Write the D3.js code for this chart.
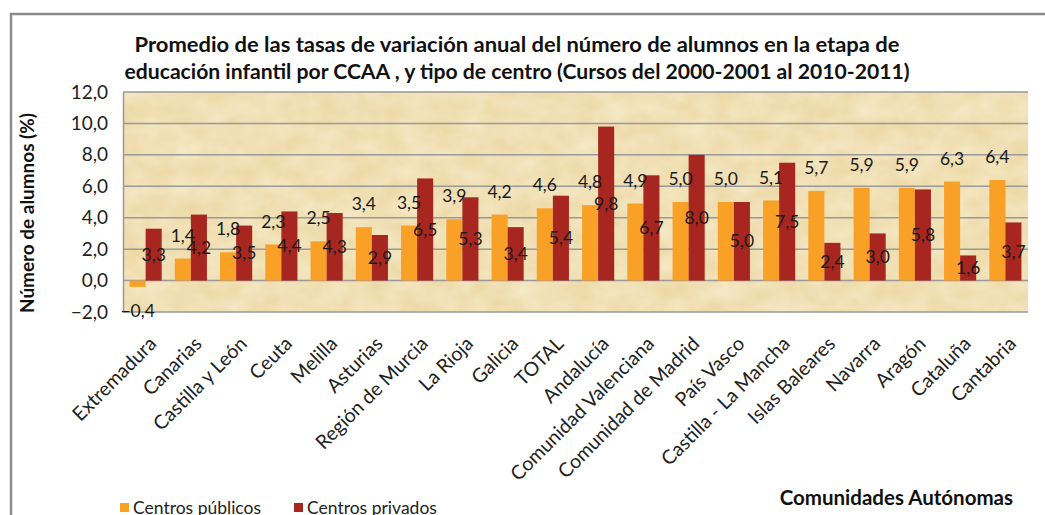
<!DOCTYPE html>
<html>
<head>
<meta charset="utf-8">
<title>Tasas de variación - educación infantil</title>
<script src="https://d3js.org/d3.v7.min.js"></script>
<style>
body { margin: 0; background: #fff; }
svg { display: block; font-family: Lato, "Open Sans", sans-serif; }
</style>
</head>
<body>
<script type="text/javascript">

var width = 1045,
    height = 515;

var categories = ["Extremadura", "Canarias", "Castilla y León", "Ceuta", "Melilla", "Asturias",
  "Región de Murcia", "La Rioja", "Galicia", "TOTAL", "Andalucía", "Comunidad Valenciana",
  "Comunidad de Madrid", "País Vasco", "Castilla - La Mancha", "Islas Baleares", "Navarra",
  "Aragón", "Cataluña", "Cantabria"];

var publicos = [-0.4, 1.4, 1.8, 2.3, 2.5, 3.4, 3.5, 3.9, 4.2, 4.6, 4.8, 4.9, 5.0, 5.0, 5.1, 5.7, 5.9, 5.9, 6.3, 6.4];
var privados = [3.3, 4.2, 3.5, 4.4, 4.3, 2.9, 6.5, 5.3, 3.4, 5.4, 9.8, 6.7, 8.0, 5.0, 7.5, 2.4, 3.0, 5.8, 1.6, 3.7];

var yTicks = [-2, 0, 2, 4, 6, 8, 10, 12];
var seriesNames = ["Centros públicos", "Centros privados"];
var seriesColors = ["#F9A027", "#A7261F"];

var titleLines = ["Promedio de las tasas de variación anual del número de alumnos en la etapa de",
  "educación infantil por CCAA , y tipo de centro (Cursos del 2000-2001 al 2010-2011)"];

var plot = { left: 123, top: 92, right: 1028, bottom: 312 };

var es = d3.formatLocale({ decimal: ",", thousands: ".", grouping: [3], currency: ["", " €"] });
var fmt = es.format(".1f");

var svg = d3.select("body").append("svg")
    .attr("width", width)
    .attr("height", height);

var defs = svg.append("defs");
var filt = defs.append("filter").attr("id", "paper")
    .attr("x", 0).attr("y", 0).attr("width", "100%").attr("height", "100%");
filt.append("feTurbulence")
    .attr("type", "fractalNoise")
    .attr("baseFrequency", "0.035 0.05")
    .attr("numOctaves", 3)
    .attr("seed", 7);
filt.append("feColorMatrix")
    .attr("type", "matrix")
    .attr("values", "0 0 0 0 1  0 0 0 0 0.97  0 0 0 0 0.86  0 0 0 0.6 -0.1");
filt.append("feComposite").attr("in2", "SourceGraphic").attr("operator", "in");

// outer frame (cut at the bottom/right like the source)
svg.append("path")
    .attr("d", "M11," + height + " V14 H" + width)
    .attr("fill", "none")
    .attr("stroke", "#8c8c8c")
    .attr("stroke-width", 2.5);

// title
svg.append("g").selectAll("text")
    .data(titleLines)
    .enter().append("text")
    .attr("x", 517)
    .attr("y", function(d, i) { return 52 + i * 27; })
    .attr("text-anchor", "middle")
    .attr("textLength", function(d, i) { return i ? 785 : 765; })
    .attr("lengthAdjust", "spacingAndGlyphs")
    .style("font-size", "21px")
    .style("font-weight", "bold")
    .style("fill", "#111")
    .text(function(d) { return d; });

var x0 = d3.scaleBand()
    .domain(categories)
    .range([plot.left, plot.right])
    .paddingInner(0.29)
    .paddingOuter(0.145);

var x1 = d3.scaleBand()
    .domain([0, 1])
    .range([0, x0.bandwidth()]);

var y = d3.scaleLinear()
    .domain([-2, 12])
    .range([plot.bottom, plot.top]);

// plot area background
svg.append("rect")
    .attr("x", plot.left).attr("y", plot.top)
    .attr("width", plot.right - plot.left).attr("height", plot.bottom - plot.top)
    .attr("fill", "#EDD9A6");
svg.append("rect")
    .attr("x", plot.left).attr("y", plot.top)
    .attr("width", plot.right - plot.left).attr("height", plot.bottom - plot.top)
    .attr("fill", "#EDD9A6")
    .attr("filter", "url(#paper)");

// gridlines
svg.append("g").selectAll("line")
    .data(yTicks)
    .enter().append("line")
    .attr("x1", plot.left).attr("x2", plot.right)
    .attr("y1", function(d) { return y(d); })
    .attr("y2", function(d) { return y(d); })
    .attr("stroke", "#999")
    .attr("stroke-width", 1.5);

// y axis
var yAxis = svg.append("g")
    .attr("transform", "translate(" + plot.left + ",0)")
    .call(d3.axisLeft(y).tickValues(yTicks).tickSize(0).tickPadding(15).tickFormat(fmt));
yAxis.select(".domain").attr("stroke", "#999").attr("stroke-width", 1.5);
yAxis.selectAll("text")
    .style("font-family", "Lato, sans-serif")
    .style("font-size", "19px")
    .style("fill", "#222");

svg.append("text")
    .attr("transform", "translate(34,213) rotate(-90)")
    .attr("text-anchor", "middle")
    .attr("textLength", 200)
    .attr("lengthAdjust", "spacingAndGlyphs")
    .style("font-size", "19px")
    .style("font-weight", "bold")
    .style("fill", "#111")
    .text("Número de alumnos (%)");

// bars
var rows = categories.map(function(c, i) { return { cat: c, vals: [publicos[i], privados[i]] }; });

var groups = svg.append("g").selectAll("g")
    .data(rows)
    .enter().append("g")
    .attr("transform", function(d) { return "translate(" + x0(d.cat) + ",0)"; });

groups.selectAll("rect")
    .data(function(d) { return d.vals.map(function(v, k) { return { k: k, v: v }; }); })
    .enter().append("rect")
    .attr("x", function(d) { return x1(d.k); })
    .attr("width", x1.bandwidth())
    .attr("y", function(d) { return y(Math.max(0, d.v)); })
    .attr("height", function(d) { return Math.abs(y(d.v) - y(0)); })
    .attr("fill", function(d) { return seriesColors[d.k]; });

// data labels: públicos above the bar end, privados centred in the bar
groups.selectAll("text")
    .data(function(d) { return d.vals.map(function(v, k) { return { k: k, v: v }; }); })
    .enter().append("text")
    .attr("x", function(d) { return x1(d.k) + x1.bandwidth() / 2; })
    .attr("y", function(d) {
      if (d.k === 1) return (y(d.v) + y(0)) / 2;
      return d.v >= 0 ? y(d.v) - 23 : y(d.v) + 24;
    })
    .attr("dy", "0.35em")
    .attr("text-anchor", "middle")
    .style("font-size", "17.5px")
    .style("fill", "#1a1a1a")
    .text(function(d) { return fmt(d.v); });

// x labels
svg.append("g").selectAll("text")
    .data(categories)
    .enter().append("text")
    .attr("transform", function(d) {
      return "translate(" + (x0(d) + x0.bandwidth() / 2 + 12) + "," + 345 + ") rotate(-45)";
    })
    .attr("text-anchor", "end")
    .style("font-size", "19.5px")
    .style("fill", "#222")
    .text(function(d) { return d; });

// legend
var legend = svg.append("g").attr("class", "legend");
var li = legend.selectAll("g")
    .data(seriesNames)
    .enter().append("g")
    .attr("transform", function(d, i) { return "translate(" + (120 + i * 174) + ",503)"; });
li.append("rect")
    .attr("width", 9).attr("height", 9)
    .attr("fill", function(d, i) { return seriesColors[i]; });
li.append("text")
    .attr("x", 13)
    .attr("y", 11)
    .style("font-size", "17.5px")
    .style("fill", "#222")
    .text(function(d) { return d; });

svg.append("text")
    .attr("x", 1013)
    .attr("y", 505)
    .attr("text-anchor", "end")
    .style("font-size", "20.5px")
    .style("font-weight", "bold")
    .style("fill", "#111")
    .text("Comunidades Autónomas");

</script>
</body>
</html>
